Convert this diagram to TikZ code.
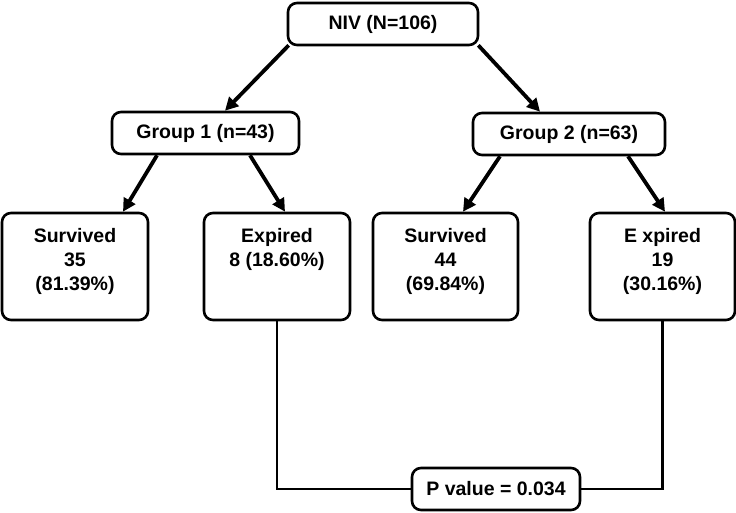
\documentclass[tikz,border=0pt]{standalone}
\usepackage{fontspec}
\setmainfont{Liberation Sans}
\usetikzlibrary{arrows.meta}
\tikzset{
  box/.style={draw=black, line width=2.6pt, rounded corners=9pt, fill=white, inner sep=0pt},
  txt/.style={font=\fontsize{19.5}{24}\selectfont\bfseries, align=center, inner sep=0pt},
  arr/.style={line width=3.8pt, -{Triangle[length=13pt,width=13pt]}},
  conn/.style={line width=2.6pt}
}
\begin{document}
\begin{tikzpicture}[x=1pt,y=-1pt]
\useasboundingbox[fill=white] (0,0) rectangle (736,513);
% boxes
\node[box, minimum width=190pt, minimum height=42pt, txt] (niv) at (383,24) {NIV (N=106)};
\node[box, minimum width=187pt, minimum height=42pt, txt] (g1) at (205.5,133) {Group 1 (n=43)};
\node[box, minimum width=192pt, minimum height=42pt, txt] (g2) at (569,134) {Group 2 (n=63)};
\node[box, minimum width=146pt, minimum height=107pt] (s1) at (75,266.5) {};
\node[box, minimum width=146pt, minimum height=107pt] (e1) at (277,266.5) {};
\node[box, minimum width=145pt, minimum height=107pt] (s2) at (445.5,266.5) {};
\node[box, minimum width=145pt, minimum height=107pt] (e2) at (662.5,266.5) {};
% texts in the tall boxes
\node[txt, anchor=north] (s1t) at ([yshift=-16pt]s1.north) {Survived\\35\\(81.39\%)};
\node[txt, anchor=north] (e1t) at ([yshift=-16pt]e1.north) {Expired\\8 (18.60\%)};
\node[txt, anchor=north] (s2t) at ([yshift=-16pt]s2.north) {Survived\\44\\(69.84\%)};
\node[txt, anchor=north] (e2t) at ([yshift=-16pt]e2.north) {E xpired\\19\\(30.16\%)};
% connectors to p value
\node[box, minimum width=168pt, minimum height=42pt, txt] (p) at (496,489) {P value = 0.034};
\draw[conn] (e1.south) |- (p.west);
\draw[conn] (e2.south) |- (p.east);
% arrows
\draw[arr] ([xshift=2pt,yshift=1pt]niv.south west) -- ([xshift=19.5pt]g1.north);
\draw[arr] ([xshift=-1pt,yshift=1pt]niv.south east) -- ([xshift=-29pt]g2.north);
\draw[arr] ([xshift=-48.5pt]g1.south) -- ([xshift=48pt]s1.north);
\draw[arr] ([xshift=44.5pt]g1.south) -- ([xshift=8pt]e1.north);
\draw[arr] ([xshift=-69pt]g2.south) -- ([xshift=17.5pt]s2.north);
\draw[arr] ([xshift=59pt]g2.south) -- ([xshift=2.5pt]e2.north);
\end{tikzpicture}
\end{document}
